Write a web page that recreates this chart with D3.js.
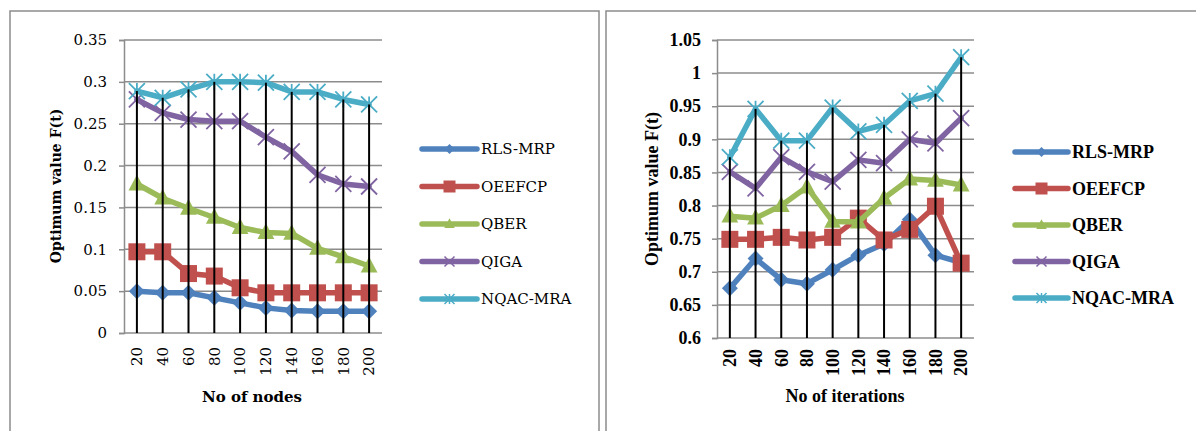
<!DOCTYPE html>
<html>
<head>
<meta charset="utf-8">
<script src="https://cdn.jsdelivr.net/npm/d3@7"></script>
<style>
  body { margin: 0; background: #fff; }
  svg { display: block; }
</style>
</head>
<body>
<div id="grafica"></div>
<script>
// datos
var categorias = [20, 40, 60, 80, 100, 120, 140, 160, 180, 200];
var series = ["RLS-MRP", "OEEFCP", "QBER", "QIGA", "NQAC-MRA"];

// grafica izquierda: No of nodes
var nodosRLS = [0.050, 0.048, 0.048, 0.042, 0.036, 0.030, 0.027, 0.026, 0.026, 0.026];
var nodosOEE = [0.097, 0.097, 0.071, 0.068, 0.054, 0.048, 0.048, 0.048, 0.048, 0.048];
var nodosQBER = [0.178, 0.161, 0.149, 0.138, 0.126, 0.120, 0.119, 0.101, 0.091, 0.080];
var nodosQIGA = [0.279, 0.263, 0.255, 0.253, 0.253, 0.234, 0.217, 0.189, 0.178, 0.175];
var nodosNQAC = [0.289, 0.281, 0.291, 0.300, 0.300, 0.299, 0.288, 0.288, 0.279, 0.273];
var ticksNodos = [0, 0.05, 0.1, 0.15, 0.2, 0.25, 0.3, 0.35];

// grafica derecha: No of iterations
var iterRLS = [0.675, 0.720, 0.688, 0.682, 0.703, 0.725, 0.742, 0.779, 0.725, 0.714];
var iterOEE = [0.749, 0.749, 0.752, 0.748, 0.752, 0.781, 0.748, 0.764, 0.799, 0.713];
var iterQBER = [0.784, 0.781, 0.800, 0.828, 0.776, 0.775, 0.811, 0.840, 0.838, 0.831];
var iterQIGA = [0.851, 0.826, 0.873, 0.851, 0.836, 0.869, 0.864, 0.900, 0.894, 0.932];
var iterNQAC = [0.873, 0.946, 0.898, 0.898, 0.948, 0.912, 0.922, 0.958, 0.969, 1.024];
var ticksIter = [0.6, 0.65, 0.7, 0.75, 0.8, 0.85, 0.9, 0.95, 1, 1.05];

var colores = ["#4F81BD", "#C0504D", "#9BBB59", "#8064A2", "#4BACC6"];

var W = 1196, H = 431;
var svg = d3.select("#grafica").append("svg")
  .attr("width", W)
  .attr("height", H);

// marcadores de cada serie
function marcador(g, tipo, color, s, grosor) {
  if (tipo == 0) {
    g.append("path").attr("d", "M0," + (-s) + "L" + s + ",0L0," + s + "L" + (-s) + ",0Z").attr("fill", color);
  } else if (tipo == 1) {
    g.append("rect").attr("x", -s).attr("y", -s).attr("width", 2 * s).attr("height", 2 * s).attr("fill", color);
  } else if (tipo == 2) {
    g.append("path").attr("d", "M0," + (-s * 1.15) + "L" + (s * 1.05) + "," + (s * 0.8) + "L" + (-s * 1.05) + "," + (s * 0.8) + "Z").attr("fill", color);
  } else if (tipo == 3) {
    g.append("path").attr("d", "M" + (-s) + "," + (-s) + "L" + s + "," + s + "M" + s + "," + (-s) + "L" + (-s) + "," + s)
      .attr("stroke", color).attr("stroke-width", grosor).attr("fill", "none");
  } else {
    g.append("path").attr("d", "M" + (-s) + "," + (-s) + "L" + s + "," + s + "M" + s + "," + (-s) + "L" + (-s) + "," + s + "M0," + (-s) + "L0," + s)
      .attr("stroke", color).attr("stroke-width", grosor).attr("fill", "none");
  }
}

function grafica(cfg) {
  var x = d3.scaleBand().domain(categorias).range([cfg.x0, cfg.x1]);
  var y = d3.scaleLinear().domain([cfg.ticks[0], cfg.ticks[cfg.ticks.length - 1]]).range([cfg.y0, cfg.y1]);
  var cx = function (d, i) { return x(categorias[i]) + x.bandwidth() / 2; };

  // marco
  svg.append("rect")
    .attr("x", cfg.marco[0]).attr("y", cfg.marco[1])
    .attr("width", cfg.marco[2]).attr("height", cfg.marco[3])
    .attr("fill", "none").attr("stroke", "#8c8c8c").attr("stroke-width", 1.5);

  // rejilla y eje y
  var ejeY = svg.append("g")
    .attr("transform", "translate(" + cfg.x0 + ",0)")
    .call(d3.axisLeft(y).tickValues(cfg.ticks).tickSize(5).tickFormat(function (d) { return d3.format("")(+d.toFixed(2)); }));
  ejeY.select(".domain").attr("stroke", "#8c8c8c").attr("stroke-width", 1.5);
  ejeY.selectAll(".tick line").attr("stroke", "#8c8c8c").attr("stroke-width", 1.5);
  ejeY.selectAll(".tick text")
    .attr("x", -cfg.tickPad)
    .attr("fill", "#000")
    .style("font-family", cfg.fuente).style("font-size", cfg.tam + "px").style("font-weight", cfg.peso);

  svg.append("g").selectAll("line")
    .data(cfg.ticks)
    .enter()
    .append("line")
    .attr("x1", cfg.x0).attr("x2", cfg.x1)
    .attr("y1", function (d) { return y(d); }).attr("y2", function (d) { return y(d); })
    .attr("stroke", "#8c8c8c").attr("stroke-width", 1.5);

  // eje x
  var ejeX = svg.append("g")
    .attr("transform", "translate(0," + cfg.y0 + ")")
    .call(d3.axisBottom(x).tickSize(0));
  ejeX.select(".domain").remove();
  ejeX.selectAll(".tick text")
    .attr("transform", "rotate(-90)")
    .attr("x", -cfg.xPad).attr("y", 0).attr("dy", "0.35em")
    .attr("text-anchor", "end")
    .attr("fill", "#000")
    .style("font-family", cfg.fuente).style("font-size", cfg.tam + "px").style("font-weight", cfg.peso);

  // series
  var linea = d3.line().x(cx).y(function (d) { return y(d); });
  var tamMarca = [8, 8.5, 8, 8, 8];
  cfg.datos.forEach(function (serie, k) {
    svg.append("path")
      .datum(serie)
      .attr("d", linea)
      .attr("fill", "none")
      .attr("stroke", colores[k])
      .attr("stroke-width", 5.5)
      .attr("stroke-linejoin", "round")
      .attr("stroke-linecap", "round");
    svg.append("g").selectAll("g")
      .data(serie)
      .enter()
      .append("g")
      .attr("transform", function (d, i) { return "translate(" + cx(d, i) + "," + y(d) + ")"; })
      .each(function () { marcador(d3.select(this), k, colores[k], tamMarca[k], 1.8); });
  });

  // lineas de caida desde el valor maximo
  var maximos = categorias.map(function (c, i) {
    return d3.max(cfg.datos, function (s) { return s[i]; });
  });
  svg.append("g").selectAll("line")
    .data(maximos)
    .enter()
    .append("line")
    .attr("x1", cx).attr("x2", cx)
    .attr("y1", function (d) { return y(d); })
    .attr("y2", cfg.y0)
    .attr("stroke", "#000").attr("stroke-width", 2);

  // titulos
  svg.append("text")
    .attr("transform", "translate(" + cfg.tituloY[0] + "," + cfg.tituloY[1] + ") rotate(-90)")
    .attr("text-anchor", "middle")
    .attr("dy", "0.35em")
    .style("font-family", cfg.fuente).style("font-size", cfg.tamTitulo + "px").style("font-weight", "bold")
    .text("Optimum value F(t)");
  svg.append("text")
    .attr("x", cfg.tituloX[0]).attr("y", cfg.tituloX[1])
    .attr("text-anchor", "middle")
    .style("font-family", cfg.fuente).style("font-size", cfg.tamTituloX + "px").style("font-weight", "bold")
    .text(cfg.tituloXTexto);

  // leyenda
  var ley = svg.append("g").selectAll("g")
    .data(series)
    .enter()
    .append("g")
    .attr("transform", function (d, i) { return "translate(" + cfg.ley[0] + "," + (cfg.ley[1] + i * cfg.ley[2]) + ")"; });
  ley.append("line")
    .attr("x1", 0).attr("x2", cfg.ley[3])
    .attr("stroke", function (d, i) { return colores[i]; })
    .attr("stroke-width", 5.5).attr("stroke-linecap", "round");
  ley.each(function (d, i) {
    var g = d3.select(this).append("g").attr("transform", "translate(" + cfg.ley[3] / 2 + ",0)");
    marcador(g, i, colores[i], i == 1 ? 6 : 5, 1.5);
  });
  ley.append("text")
    .attr("x", cfg.ley[3] + 4).attr("dy", "0.35em")
    .style("font-family", cfg.fuente).style("font-size", cfg.tamLey + "px").style("font-weight", cfg.peso)
    .text(function (d) { return d; });
}

grafica({
  datos: [nodosRLS, nodosOEE, nodosQBER, nodosQIGA, nodosNQAC],
  ticks: ticksNodos,
  x0: 124, x1: 382, y0: 333, y1: 40,
  marco: [10, 11, 589, 440],
  fuente: "DejaVu Serif", tam: 15, peso: "normal", tickPad: 17, xPad: 14,
  tamTitulo: 14, tituloY: [56, 186],
  tamTituloX: 15, tituloX: [252, 402], tituloXTexto: "No of nodes",
  ley: [422, 149, 37.5, 55], tamLey: 15
});

grafica({
  datos: [iterRLS, iterOEE, iterQBER, iterQIGA, iterNQAC],
  ticks: ticksIter,
  x0: 717, x1: 974, y0: 338, y1: 40,
  marco: [606, 11, 600, 440],
  fuente: "Liberation Serif", tam: 18, peso: "bold", tickPad: 16, xPad: 11,
  tamTitulo: 18, tituloY: [652, 189],
  tamTituloX: 18, tituloX: [845, 402], tituloXTexto: "No of iterations",
  ley: [1015, 152, 36.5, 53], tamLey: 18
});
</script>
</body>
</html>
